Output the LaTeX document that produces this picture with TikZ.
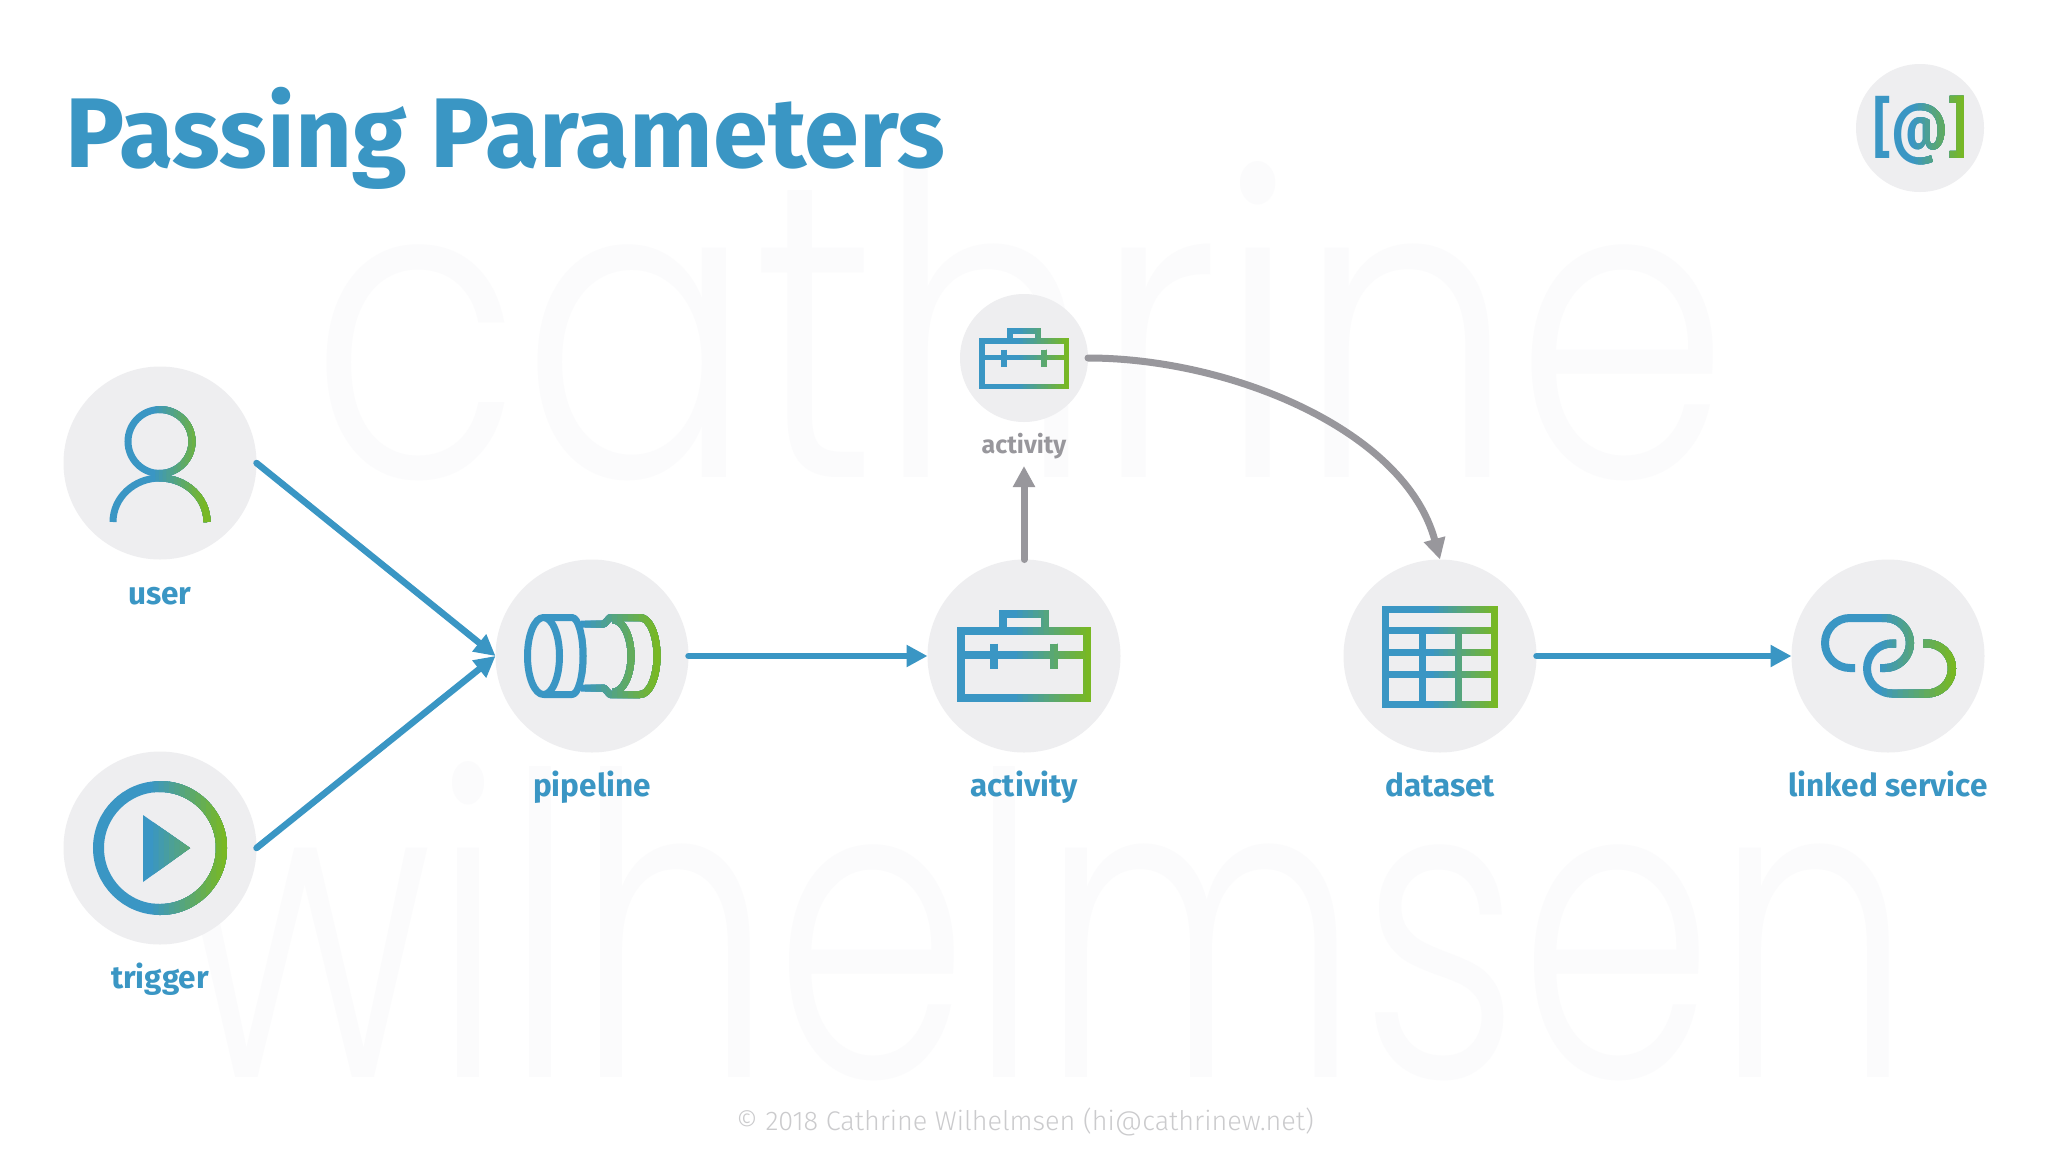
\documentclass[tikz,border=0pt]{standalone}
\usepackage{fontspec}
\usetikzlibrary{arrows.meta}
\newfontfamily\fsbold{Fira Sans Bold}
\newfontfamily\fssemi{Fira Sans SemiBold}
\newfontfamily\fslight{Fira Sans Light}
\newfontfamily\wmone[FakeStretch=0.82]{Poppins Light}
\newfontfamily\wmtwo[FakeStretch=0.745]{Poppins Light}
\definecolor{icblue}{HTML}{3A96C4}
\definecolor{icgreen}{HTML}{78B824}
\definecolor{discgray}{HTML}{EEEEF0}
\definecolor{linegray}{HTML}{98979C}
\definecolor{foot}{HTML}{CBCBCD}
\definecolor{wmark}{HTML}{FBFBFC}
\tikzset{
  disc/.style={circle,fill=discgray,inner sep=0pt,outer sep=0pt,minimum size=193pt},
  smalldisc/.style={disc,minimum size=128pt},
  lbl/.style={font=\fsbold\fontsize{31.5}{36}\selectfont,text=icblue,inner sep=0pt,anchor=base},
  flow/.style={draw=icblue,line width=6.5pt,line cap=round,-{Triangle[length=21pt,width=21pt]}},
  gflow/.style={draw=linegray,line width=7pt,line cap=round,-{Triangle[length=21pt,width=21pt]}},
  icon/.style={draw=gradcol,line width=#1,line join=miter},
  ricon/.style={draw=gradcol,line width=#1,line join=round},
  wmtext/.style={inner sep=0pt,anchor=base,text=wmark}
}
% x0 x1 y0 y1 content : the stroke passes from blue to green across x0..x1
\newcommand{\gradicon}[5]{%
  \begin{scope}
    \colorlet{gradcol}{icblue}
    \clip (#1-15,#3-15) rectangle (#2+15,#4+15);
    #5
  \end{scope}
  \foreach \i in {1,...,14}{%
    \pgfmathsetmacro\xs{#1+(#2-#1)*(0.45+0.55*(\i-1)/14)}
    \pgfmathsetmacro\pc{100*\i/14}
    \begin{scope}
      \colorlet{gradcol}{icgreen!\pc!icblue}
      \clip (\xs,#3-15) rectangle (#2+15,#4+15);
      #5
    \end{scope}
  }%
}
\newcommand{\caseicon}[7]{% cx cy w h handle-halfwidth handle-height lw
  \draw[icon=#7] (#1-#3/2,#2-#4/2) rectangle (#1+#3/2,#2+#4/2);
  \draw[icon=#7] (#1-#5,#2-#4/2) -- (#1-#5,#2-#4/2-#6) -- (#1+#5,#2-#4/2-#6) -- (#1+#5,#2-#4/2);
  \draw[icon=#7] (#1-#3/2,#2-#4/2+0.36*#4) -- (#1+#3/2,#2-#4/2+0.36*#4);
  \draw[icon=#7] (#1-0.235*#3,#2-#4/2+0.19*#4) -- (#1-0.235*#3,#2-#4/2+0.56*#4);
  \draw[icon=#7] (#1+0.235*#3,#2-#4/2+0.19*#4) -- (#1+0.235*#3,#2-#4/2+0.56*#4);
}
\begin{document}
\begin{tikzpicture}[x=1pt,y=-1pt]
\useasboundingbox (0,0) rectangle (2048,1152);
\fill[white] (0,0) rectangle (2048,1152);
% watermark
\node[wmtext,font=\wmone\fontsize{420}{440}\selectfont] (wmarkone) at (1020,477) {cathrine};
\node[wmtext,font=\wmtwo\fontsize{420}{440}\selectfont] (wmarktwo) at (1045,1077) {wilhelmsen};
% title, footer
\node[inner sep=0pt,anchor=base west,text=icblue,font=\fsbold\fontsize{99}{110}\selectfont] (title) at (65,167) {Passing Parameters};
\node[inner sep=0pt,anchor=base,text=foot,font=\fslight\fontsize{27}{30}\selectfont] (footer) at (1025,1130) {© 2018 Cathrine Wilhelmsen (hi@cathrinew.net)};
% discs
\node[smalldisc] (logo) at (1920,128) {};
\node[disc] (user) at (160,463) {};
\node[disc] (trigger) at (160,848) {};
\node[disc] (pipeline) at (592,656) {};
\node[disc] (activity) at (1024,656) {};
\node[smalldisc] (small) at (1024,358) {};
\node[disc] (dataset) at (1440,656) {};
\node[disc] (linked) at (1888,656) {};
% labels
\node[lbl] (luser) at (160,604) {user};
\node[lbl] (ltrigger) at (160,988) {trigger};
\node[lbl] (lpipeline) at (592,796) {pipeline};
\node[lbl] (lactivity) at (1024,796) {activity};
\node[lbl] (ldataset) at (1440,796) {dataset};
\node[lbl] (llinked) at (1888,796) {linked service};
\node[lbl,text=linegray,font=\fsbold\fontsize{25}{30}\selectfont] (lsmall) at (1024,453) {activity};
\coordinate (smalltip) at (1024,466);
% connectors
\draw[flow] (user.east) -- (pipeline.west);
\draw[flow] (trigger.east) -- (pipeline.west);
\draw[flow] (pipeline.east) -- (activity.west);
\draw[flow] (dataset.east) -- (linked.west);
\draw[gflow] (activity.north) -- (smalltip);
\draw[gflow] (small.east) .. controls (1230,358) and (1405,430) .. (dataset.north);
% user icon
\gradicon{113}{207}{400}{530}{%
  \draw[icon=7pt] (160,441.5) circle[radius=32];
  \draw[icon=7pt] (113,522) arc[start angle=180,end angle=360,x radius=47,y radius=44];
}
% trigger icon
\gradicon{93}{227}{778}{918}{%
  \draw[icon=11pt] (160,848) circle[radius=61.5];
  \fill[gradcol] (143,815) -- (190,848) -- (143,882) -- cycle;
}
% pipeline icon
\gradicon{524}{660}{610}{702}{%
  \draw[ricon=7pt] (543.5,656) ellipse[x radius=16,y radius=38.5];
  \draw[ricon=7pt] (543.5,617.5) -- (572,617.5) arc[start angle=270,end angle=450,x radius=11,y radius=38.5] -- (543.5,694.5);
  \draw[ricon=7pt] (581,624) -- (604,624) -- (610,617.5) -- (640,617.5) arc[start angle=270,end angle=450,x radius=17,y radius=38.5] -- (610,694.5) -- (604,688) -- (581,688);
  \draw[ricon=7pt] (613,620) arc[start angle=270,end angle=450,x radius=18,y radius=36];
}
% activity icons
\gradicon{957}{1091}{605}{706}{\caseicon{1024}{664.5}{126}{67}{21}{17.5}{8pt}}
\gradicon{979}{1069}{325}{392}{\caseicon{1024}{363.8}{84.5}{45.5}{14}{10}{5.5pt}}
% dataset icon
\gradicon{1382}{1498}{605}{708}{%
  \draw[icon=7pt] (1385.5,609.5) rectangle (1494.5,704);
  \draw[icon=7pt] (1385.5,630) -- (1494.5,630);
  \draw[icon=7pt] (1385.5,652.5) -- (1494.5,652.5);
  \draw[icon=7pt] (1385.5,674) -- (1494.5,674);
  \draw[icon=7pt] (1422,630) -- (1422,704);
  \draw[icon=7pt] (1458,630) -- (1458,704);
}
% linked service icon
\gradicon{1821}{1956}{610}{700}{%
  \draw[icon=8pt] (1855,668) -- (1850,668) arc[start angle=90,end angle=270,radius=25] -- (1885,618) arc[start angle=270,end angle=450,radius=25] -- (1880,668);
  \draw[icon=8pt] (1896,643.5) -- (1892,643.5) arc[start angle=270,end angle=90,radius=25] -- (1927,693.5) arc[start angle=90,end angle=-90,radius=25] -- (1923,643.5);
}
% logo
\gradicon{1874}{1965}{95}{165}{%
  \node[inner sep=0pt,text=gradcol,font=\fssemi\fontsize{66}{70}\selectfont,anchor=base,xscale=0.84] (logotext) at (1920,150) {[@]};
}
\end{tikzpicture}
\end{document}
